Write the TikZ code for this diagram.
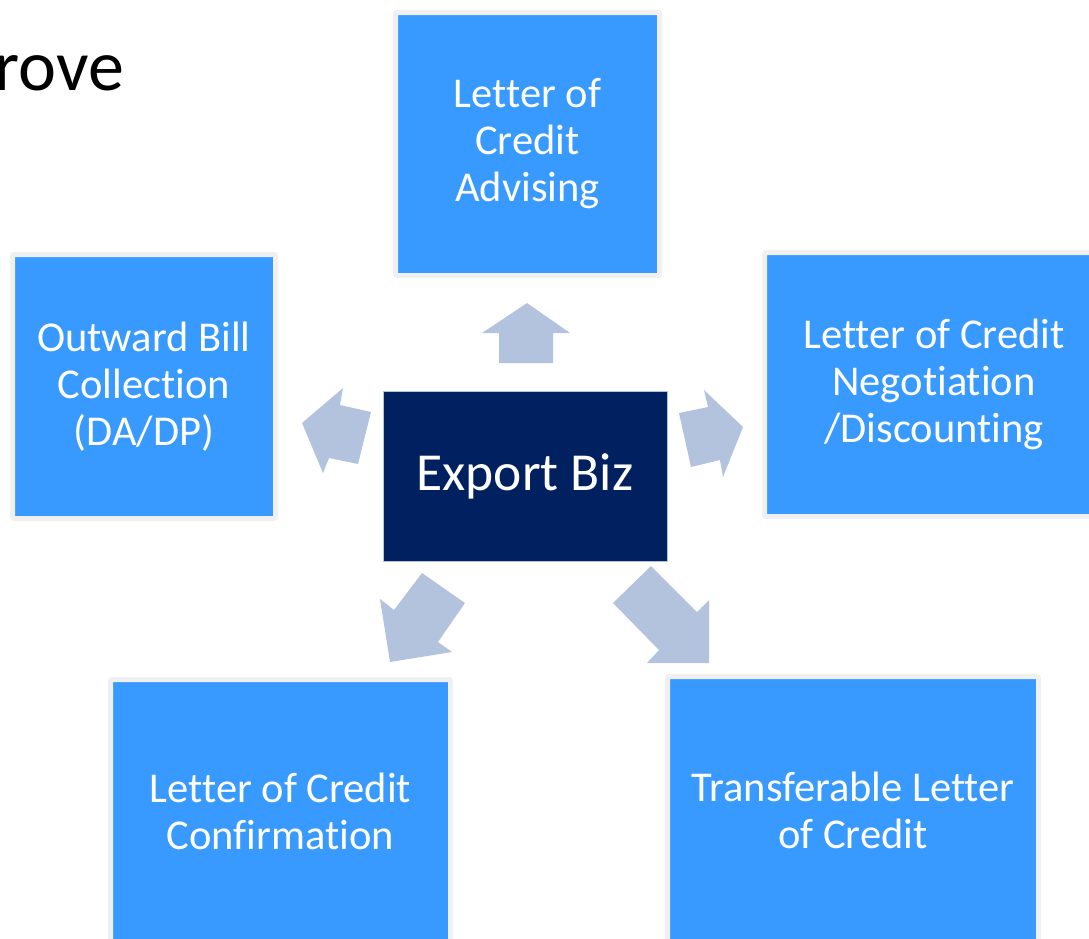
\documentclass[tikz,border=0pt]{standalone}
\usepackage{fontspec}
\setmainfont{Carlito}[Ligatures=NoCommon]
\usepackage{xcolor}
\usepackage{tikz}
\usetikzlibrary{positioning}
\definecolor{boxblue}{HTML}{3899FF}
\definecolor{bizblue}{HTML}{012060}
\definecolor{arrowgrey}{HTML}{B3C3DE}
\definecolor{rimgrey}{HTML}{F0F0F0}

\begin{document}
\begin{tikzpicture}[x=1pt, y=-1pt,
    svcbox/.style={fill=boxblue, draw=rimgrey, line width=5pt, rounded corners=2pt,
        text=white, align=center, inner sep=0pt, font=\fontsize{42.5}{47}\selectfont},
    blockarrow/.style={fill=arrowgrey}]
    \useasboundingbox (0,0) rectangle (1089,938);
    \clip (0,0) rectangle (1089,938);

    % Title fragment
    \node[anchor=base east, inner sep=0pt, font=\fontsize{72}{80}\selectfont] (title) at (124,90) {rove};

    % Service boxes
    \node[svcbox, minimum width=264pt, minimum height=263pt] (adv) at (527.5,144) {Letter of\\Credit\\Advising};
    \node[svcbox, minimum width=263pt, minimum height=264pt] (obc) at (144,386.5) {Outward Bill\\Collection\\(DA/DP)};
    \node[svcbox, minimum width=339pt, minimum height=264pt] (neg) at (934,384.5) {Letter of Credit\\Negotiation\\/Discounting};
    \node[svcbox, minimum width=340pt, minimum height=263pt] (conf) at (280.5,811) {Letter of Credit\\Confirmation};
    \node[svcbox, minimum width=371pt, minimum height=267pt] (trans) at (853,810) {Transferable Letter\\of Credit};

    % Centre
    \node[fill=bizblue, draw=arrowgrey, line width=0.6pt, text=white, inner sep=0pt,
        minimum width=284pt, minimum height=170pt, font=\fontsize{53.5}{60}\selectfont] (biz) at (525,476) {Export Biz};

    % Block arrows
    \fill[blockarrow] (527,303) -- (570,333) -- (553,333) -- (553,363) -- (499,363) -- (499,333) -- (482,333) -- cycle;
    \fill[blockarrow] (302,423) -- (343,388) -- (340,405) -- (371,412) -- (358,464) -- (329,458) -- (323,473) -- cycle;
    \fill[blockarrow] (743,427) -- (704,390) -- (708,407) -- (679,413) -- (691,467) -- (720,460) -- (723,477) -- cycle;
    \fill[blockarrow] (390,662) -- (380,599) -- (394,610) -- (422,573) -- (465,603) -- (438,642) -- (452,652) -- cycle;
    \fill[blockarrow] (709,663) -- (709,600) -- (697,612) -- (651,566) -- (613,603) -- (659,650) -- (647,663) -- cycle;
\end{tikzpicture}
\end{document}
